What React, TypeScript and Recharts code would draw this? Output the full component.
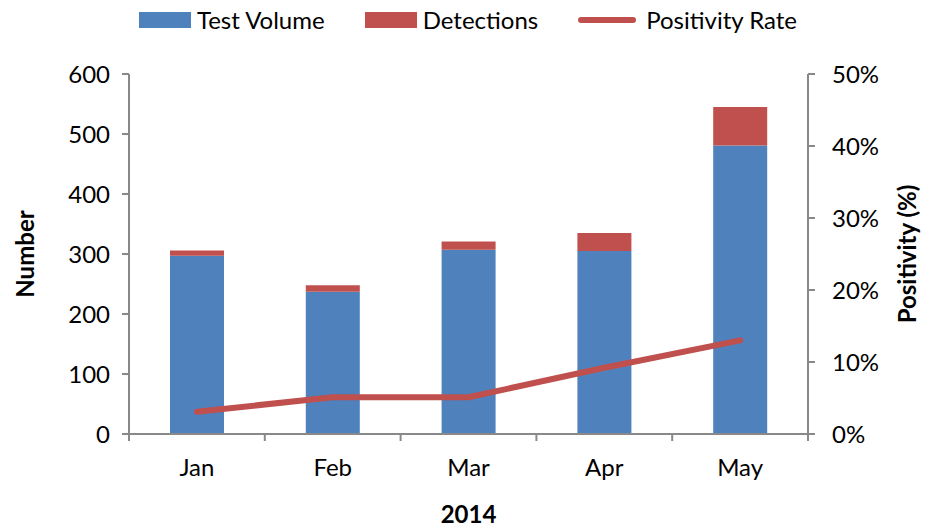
import React from 'react';
import { ComposedChart, Bar, Line, XAxis, YAxis, Legend } from 'recharts';

const months = ['Jan', 'Feb', 'Mar', 'Apr', 'May'];
const testVolume = [297, 237, 307, 305, 481];
const detections = [9, 11, 14, 30, 64];
const positivity = [3.1, 5.1, 5.1, 9.2, 13.0];
const leftTicks = [0, 100, 200, 300, 400, 500, 600];
const rightTicks = [0, 10, 20, 30, 40, 50];

const data = months.map((m, i) => ({
  month: m,
  volume: testVolume[i],
  detections: detections[i],
  positivity: positivity[i],
}));

const BLUE = '#4F81BD';
const RED = '#C0504D';
const AXIS = '#898989';
const FONT = 'Lato, "Open Sans", sans-serif';

const XTick = (props: any) => {
  const { x, y, payload, index, visibleTicksCount } = props;
  const half = payload && payload.offset ? payload.offset : 67.9;
  const last = index === visibleTicksCount - 1;
  return (
    <g>
      <line x1={x - half} x2={x - half} y1={y} y2={y + 7} stroke={AXIS} strokeWidth={2} />
      {last && <line x1={x + half} x2={x + half} y1={y} y2={y + 7} stroke={AXIS} strokeWidth={2} />}
      <text x={x} y={y + 42} textAnchor="middle" fill="#000" fontSize={24} fontFamily={FONT}>
        {payload.value}
      </text>
    </g>
  );
};

const LegendContent = () => {
  const items = [
    { label: 'Test Volume', type: 'rect', color: BLUE },
    { label: 'Detections', type: 'rect', color: RED },
    { label: 'Positivity Rate', type: 'line', color: RED },
  ];
  return (
    <div
      style={{
        display: 'flex',
        justifyContent: 'center',
        alignItems: 'center',
        height: 40,
        fontFamily: FONT,
        fontSize: 24,
        color: '#000',
        paddingLeft: 8,
      }}
    >
      {items.map((it, i) => (
        <div key={it.label} style={{ display: 'flex', alignItems: 'center', marginRight: i < items.length - 1 ? 40 : 0 }}>
          {it.type === 'rect' ? (
            <div style={{ width: 52, height: 16, background: it.color, marginRight: 6 }} />
          ) : (
            <svg width={58} height={16} style={{ marginRight: 10 }}>
              <line x1={3} x2={55} y1={8} y2={8} stroke={it.color} strokeWidth={6} strokeLinecap="round" />
            </svg>
          )}
          <span style={{ lineHeight: '40px' }}>{it.label}</span>
        </div>
      ))}
    </div>
  );
};

const LeftLabel = (props: any) => {
  const vb = props.viewBox || { x: 0, y: 74, width: 129, height: 360 };
  const cx = vb.x + 24;
  const cy = vb.y + vb.height / 2;
  return (
    <text
      x={cx}
      y={cy}
      transform={`rotate(-90 ${cx} ${cy})`}
      textAnchor="middle"
      dominantBaseline="central"
      fontWeight="bold"
      fontSize={24}
      fontFamily={FONT}
      fill="#000"
    >
      Number
    </text>
  );
};

const RightLabel = (props: any) => {
  const vb = props.viewBox || { x: 808, y: 74, width: 120, height: 360 };
  const cx = vb.x + 98;
  const cy = vb.y + vb.height / 2;
  return (
    <text
      x={cx}
      y={cy}
      transform={`rotate(-90 ${cx} ${cy})`}
      textAnchor="middle"
      dominantBaseline="central"
      fontWeight="bold"
      fontSize={24}
      fontFamily={FONT}
      fill="#000"
    >
      Positivity (%)
    </text>
  );
};

const BottomLabel = (props: any) => {
  const vb = props.viewBox || { x: 129, y: 434, width: 679, height: 95 };
  const cx = vb.x + vb.width / 2;
  return (
    <text x={cx} y={vb.y + 89} textAnchor="middle" fontWeight="bold" fontSize={24} fontFamily={FONT} fill="#000">
      2014
    </text>
  );
};

export default function App() {
  return (
    <div style={{ width: 928, height: 529, fontFamily: FONT, background: '#fff' }}>
      <style>{'body{margin:0;background:#fff}'}</style>
      <ComposedChart
        width={928}
        height={529}
        data={data}
        margin={{ top: 34, right: 0, bottom: 0, left: 0 }}
      >
        <Legend
          verticalAlign="top"
          content={<LegendContent />}
          wrapperStyle={{ top: 0, left: 0, width: 928, height: 40 }}
        />
        <XAxis
          dataKey="month"
          height={95}
          axisLine={{ stroke: AXIS, strokeWidth: 2 }}
          tickLine={false}
          tickSize={0}
          tickMargin={0}
          tick={<XTick />}
          interval={0}
          label={<BottomLabel />}
        />
        <YAxis
          yAxisId="left"
          width={129}
          domain={[0, 600]}
          ticks={leftTicks}
          interval={0}
          axisLine={{ stroke: AXIS, strokeWidth: 2 }}
          tickLine={{ stroke: AXIS, strokeWidth: 2 }}
          tickSize={7}
          tickMargin={12}
          tick={{ fill: '#000', fontSize: 24, fontFamily: FONT }}
          label={<LeftLabel />}
        />
        <YAxis
          yAxisId="right"
          orientation="right"
          width={120}
          domain={[0, 50]}
          ticks={rightTicks}
          interval={0}
          tickFormatter={(v: number) => `${v}%`}
          axisLine={{ stroke: AXIS, strokeWidth: 2 }}
          tickLine={{ stroke: AXIS, strokeWidth: 2 }}
          tickSize={7}
          tickMargin={17}
          tick={{ fill: '#000', fontSize: 24, fontFamily: FONT }}
          label={<RightLabel />}
        />
        <Bar yAxisId="left" dataKey="volume" name="Test Volume" stackId="a" fill={BLUE} barSize={54} isAnimationActive={false} />
        <Bar yAxisId="left" dataKey="detections" name="Detections" stackId="a" fill={RED} barSize={54} isAnimationActive={false} />
        <Line
          yAxisId="right"
          dataKey="positivity"
          name="Positivity Rate"
          type="linear"
          stroke={RED}
          strokeWidth={6}
          strokeLinecap="round"
          strokeLinejoin="round"
          dot={false}
          activeDot={false}
          isAnimationActive={false}
        />
      </ComposedChart>
    </div>
  );
}
